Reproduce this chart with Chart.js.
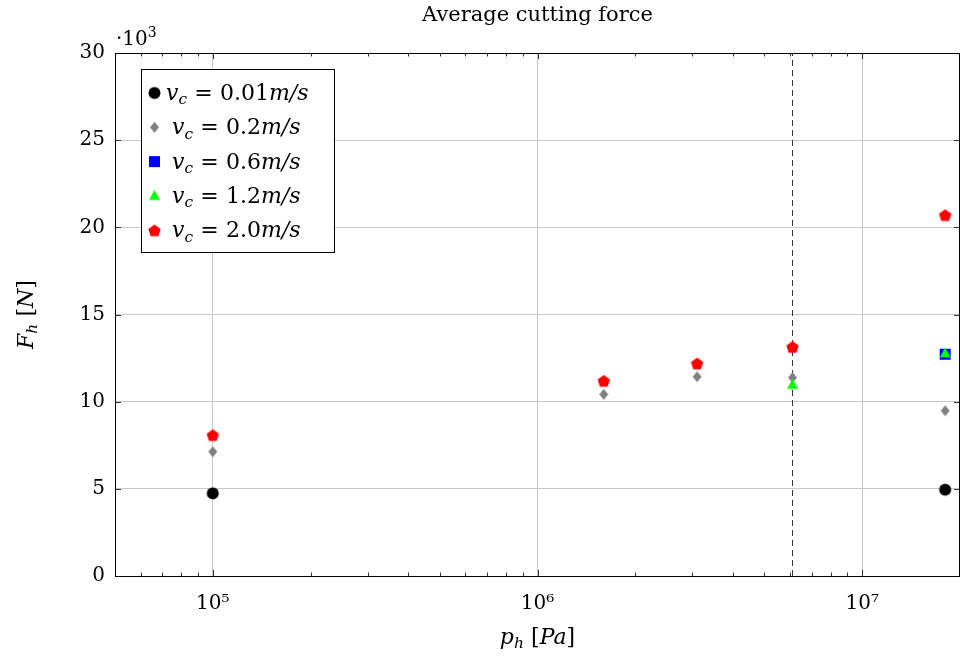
<!DOCTYPE html>
<html>
<head>
<meta charset="utf-8">
<script src="https://cdn.jsdelivr.net/npm/chart.js@4.4.1/dist/chart.umd.min.js"></script>
<style>
  html, body { margin: 0; padding: 0; background: #fff; overflow: hidden; }
  canvas { display: block; }
</style>
</head>
<body>
<canvas id="chart" width="960" height="656"></canvas>
<script>
// pressure p_h [Pa] at which the runs were made
const pressures = [1e5, 1.6e6, 3.1e6, 6.1e6, 1.8e7];
// average cutting force F_h [N], one array per cutting speed (null = no run)
const force001 = [4740, null, null, null, 4950];
const force02 = [7130, 10420, 11430, 11380, 9480];
const force06 = [null, null, null, null, 12720];
const force12 = [null, null, null, 10960, 12770];
const force20 = [8090, 11200, 12200, 13150, 20710];
const speedLabels = ['0.01', '0.2', '0.6', '1.2', '2.0'];
// dashed reference line
const limitPressure = 6.1e6;
// axis ticks
const xMajorTicks = [1e5, 1e6, 1e7];
const xMinorFactors = [2, 3, 4, 5, 6, 7, 8, 9];
const yTicks = [0, 5000, 10000, 15000, 20000, 25000, 30000];

const FONT = '"DejaVu Serif", "Liberation Serif", serif';
const X_MIN = 5e4, X_MAX = 2e7;

// all x tick values (majors + minors inside the range)
const xTicks = [];
[1e4, ...xMajorTicks].forEach(d => {
  [1, ...xMinorFactors].forEach(f => {
    const v = d * f;
    if (v >= X_MIN && v <= X_MAX) xTicks.push(v);
  });
});
const isMajor = v => xMajorTicks.includes(v);
const sup = { 5: '\u2075', 6: '\u2076', 7: '\u2077' };

// marker images (pgfplots style marks)
function makeMarker(draw) {
  const c = document.createElement('canvas');
  c.width = c.height = 15;
  const g = c.getContext('2d');
  g.translate(7.5, 7.5);
  g.beginPath();
  draw(g);
  g.fill();
  return c;
}
const markCircle = makeMarker(g => { g.fillStyle = '#000'; g.arc(0, 0, 6, 0, Math.PI * 2); });
const markDiamond = makeMarker(g => {
  g.fillStyle = '#808080';
  g.moveTo(0, -5.5); g.lineTo(4.5, 0); g.lineTo(0, 5.5); g.lineTo(-4.5, 0); g.closePath();
});
const markSquare = makeMarker(g => { g.fillStyle = '#0000ff'; g.rect(-5.5, -5.5, 11, 11); });
const markTriangle = makeMarker(g => {
  g.fillStyle = '#00ff00';
  g.moveTo(0, -6); g.lineTo(5.5, 4); g.lineTo(-5.5, 4); g.closePath();
});
const markPentagon = makeMarker(g => {
  g.fillStyle = '#ff0000';
  for (let k = 0; k < 5; k++) {
    const a = -Math.PI / 2 + k * 2 * Math.PI / 5;
    const px = 6.5 * Math.cos(a), py = 6.5 * Math.sin(a) + 0.8;
    k ? g.lineTo(px, py) : g.moveTo(px, py);
  }
  g.closePath();
});
const marks = [markCircle, markDiamond, markSquare, markTriangle, markPentagon];

const toPoints = arr => pressures
  .map((p, i) => ({ x: p, y: arr[i] }))
  .filter(pt => pt.y !== null);

const series = [force001, force02, force06, force12, force20];
const datasets = series.map((arr, i) => ({
  label: 'v_c = ' + speedLabels[i] + 'm/s',
  data: toPoints(arr),
  pointStyle: marks[i],
  pointRadius: 7,
  showLine: false,
  order: 5 - i
}));
datasets.push({
  type: 'line',
  label: 'limit',
  data: [{ x: limitPressure, y: yTicks[0] }, { x: limitPressure, y: yTicks[yTicks.length - 1] }],
  borderColor: '#333',
  borderWidth: 1,
  borderDash: [6, 4],
  pointRadius: 0,
  showLine: true,
  order: 10
});

// draw text made of roman / italic / sub / superscript pieces
function mathText(ctx, parts, size, x, y, draw) {
  let cx = x;
  for (const [t, s] of parts) {
    const small = s === 's' || s === 'u';
    const fs = small ? size * 0.7 : size;
    ctx.font = (s === 'r' || s === 'u' ? '' : 'italic ') + fs + 'px ' + FONT;
    let yy = y;
    if (s === 's') yy = y + size * 0.2;
    if (s === 'u') yy = y - size * 0.42;
    if (draw) ctx.fillText(t, cx, yy);
    cx += ctx.measureText(t).width;
  }
  return cx - x;
}

const decorPlugin = {
  id: 'decor',
  afterDatasetsDraw(chart) {
    const { ctx, chartArea: a, scales } = chart;
    ctx.save();
    // inward tick marks
    ctx.strokeStyle = '#333';
    ctx.lineWidth = 1;
    ctx.beginPath();
    scales.x.ticks.forEach(t => {
      const px = Math.round(scales.x.getPixelForValue(t.value)) + 0.5;
      if (px <= a.left + 1 || px >= a.right - 1) return;
      const len = isMajor(t.value) ? 6 : 3.5;
      ctx.moveTo(px, a.bottom); ctx.lineTo(px, a.bottom - len);
      ctx.moveTo(px, a.top); ctx.lineTo(px, a.top + len);
    });
    yTicks.forEach(v => {
      const py = Math.round(scales.y.getPixelForValue(v)) + 0.5;
      ctx.moveTo(a.left, py); ctx.lineTo(a.left + 6, py);
      ctx.moveTo(a.right, py); ctx.lineTo(a.right - 6, py);
    });
    ctx.stroke();
    // frame
    ctx.strokeStyle = '#000';
    ctx.strokeRect(Math.round(a.left) + 0.5, Math.round(a.top) + 0.5,
      Math.round(a.right - a.left) - 1, Math.round(a.bottom - a.top));
    ctx.restore();
  },
  afterDraw(chart) {
    const { ctx, chartArea: a } = chart;
    const size = 20;
    const eq = '\u2004=\u2004';
    ctx.save();
    ctx.fillStyle = '#000';
    ctx.textBaseline = 'alphabetic';
    ctx.textAlign = 'left';
    const cx = (a.left + a.right) / 2;

    // title
    const title = [['Average cutting force', 'r']];
    let w = mathText(ctx, title, 21, 0, 0, false);
    mathText(ctx, title, 21, cx - w / 2, 21, true);

    // x axis title
    const xt = [['p', 'i'], ['h', 's'], ['\u2004[', 'r'], ['Pa', 'i'], [']', 'r']];
    w = mathText(ctx, xt, 22, 0, 0, false);
    mathText(ctx, xt, 22, cx - w / 2, 644, true);

    // y axis title
    const yt = [['F', 'i'], ['h', 's'], ['\u2004[', 'r'], ['N', 'i'], [']', 'r']];
    w = mathText(ctx, yt, 22, 0, 0, false);
    ctx.save();
    ctx.translate(33, (a.top + a.bottom) / 2);
    ctx.rotate(-Math.PI / 2);
    mathText(ctx, yt, 22, -w / 2, 0, true);
    ctx.restore();

    // y scale factor
    mathText(ctx, [['\u00b710', 'r'], ['3', 'u']], size, a.left + 1, 45, true);

    // legend
    const lx = 141.5, ly = 69.5, lw = 193, lh = 183;
    ctx.fillStyle = '#fff';
    ctx.fillRect(lx, ly, lw, lh);
    ctx.strokeStyle = '#000';
    ctx.lineWidth = 1;
    ctx.strokeRect(lx, ly, lw, lh);
    ctx.fillStyle = '#000';
    speedLabels.forEach((s, i) => {
      const ry = 93 + i * 34.3;
      ctx.drawImage(marks[i], 154.5 - 7.5, ry - 7.5);
      const parts = [['v', 'i'], ['c', 's'], [eq, 'r'], [s, 'r'], ['m/s', 'i']];
      mathText(ctx, parts, 22, i === 0 ? 166 : 172, ry + 7, true);
    });
    ctx.restore();
  }
};

new Chart(document.getElementById('chart'), {
  type: 'scatter',
  data: { datasets },
  options: {
    responsive: false,
    animation: false,
    events: [],
    layout: { autoPadding: false, padding: { top: 53, right: 0, left: 0, bottom: 0 } },
    plugins: {
      legend: { display: false },
      tooltip: { enabled: false },
      title: { display: false }
    },
    scales: {
      x: {
        type: 'logarithmic',
        min: X_MIN,
        max: X_MAX,
        afterBuildTicks: scale => {
          scale.ticks = xTicks.map(v => ({ value: v, major: isMajor(v) }));
        },
        afterFit: scale => {
          scale.height = 80;
          scale.paddingLeft = 0;
          scale.paddingRight = 0;
        },
        border: { display: false },
        grid: {
          drawTicks: false,
          color: c => (c.tick && isMajor(c.tick.value)) ? '#c8c8c8' : 'rgba(0,0,0,0)',
          lineWidth: 1
        },
        ticks: {
          autoSkip: false,
          maxRotation: 0,
          padding: 16,
          color: '#000',
          font: { family: FONT, size: 20 },
          callback: v => isMajor(v) ? '10' + sup[Math.round(Math.log10(v))] : ''
        }
      },
      y: {
        min: yTicks[0],
        max: yTicks[yTicks.length - 1],
        afterBuildTicks: scale => { scale.ticks = yTicks.map(v => ({ value: v })); },
        afterFit: scale => {
          scale.width = 115;
          scale.paddingTop = 0;
          scale.paddingBottom = 0;
        },
        border: { display: false },
        grid: { drawTicks: false, color: '#c8c8c8', lineWidth: 1 },
        ticks: {
          padding: 10,
          color: '#000',
          font: { family: FONT, size: 20 },
          callback: v => String(v / 1000)
        }
      }
    }
  },
  plugins: [decorPlugin]
});
</script>
</body>
</html>
